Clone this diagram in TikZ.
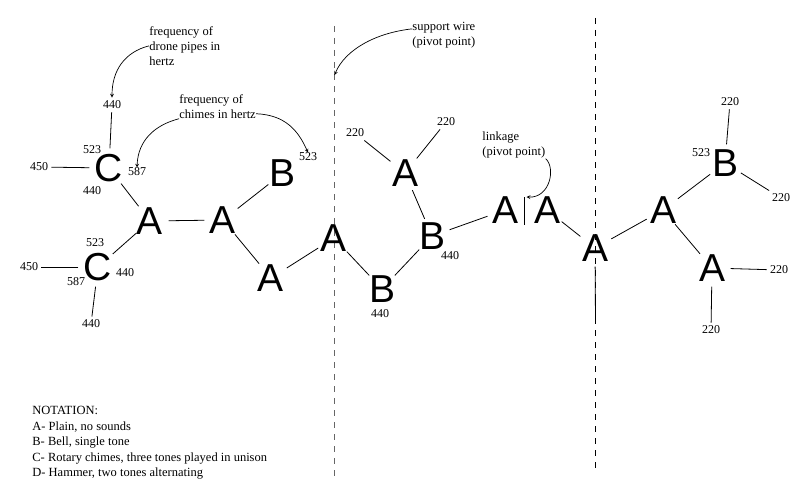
\documentclass[tikz,border=0pt]{standalone}
\usepackage{fontspec}
\setmainfont{Liberation Serif}
\newfontfamily\letterfont{Liberation Sans}
\usepackage{tikz}
\usetikzlibrary{arrows}
\usetikzlibrary{shapes.geometric}

\begin{document}
\begin{tikzpicture}[x=1pt,y=-1pt,line width=0.8pt]
  % some styles
  \tikzset{
    chime/.style={
      circle,
      inner sep=0pt,
      outer sep=0pt,
      font=\letterfont\fontsize{39}{39}\selectfont
    }
  }
  \tikzset{freq/.style={inner sep=3pt,font=\fontsize{12}{14}\selectfont}}
  \tikzset{tone/.style={freq,inner sep=0pt}}
  \tikzset{note/.style={inner sep=0pt,anchor=north west,align=left,font=\fontsize{12.5}{15}\selectfont}}
  \tikzset{wire/.style={line width=0.9pt,dash pattern=on 6pt off 6pt}}
  \tikzset{hint/.style={->,>=stealth,line width=0.7pt}}

\useasboundingbox (0,0) rectangle (810,495);

% support wires
\draw[wire,black!60] (334.5,26) -- (334.5,476);
\draw[wire] (595.5,18) -- (595.5,469);
\coordinate (pivot) at (334.5,75);
\coordinate (wirebot) at (595.5,322);
\coordinate (linktop) at (524.5,197);
\coordinate (linkbot) at (524.5,225);

% mobile parts
\node[chime] (Cu)  at (109,168) {C};
\node[chime] (A1)  at (150,221) {A};
\node[chime] (A2)  at (223,220) {A};
\node[chime] (B1)  at (283,173) {B};
\node[chime] (A3)  at (271,278) {A};
\node[chime] (Cl)  at (98,267)  {C};
\node[chime] (A4)  at (334,238) {A};
\node[chime] (At)  at (405,173) {A};
\node[chime] (Bm)  at (432,236) {B};
\node[chime] (Bl)  at (382,289) {B};
\node[chime] (Ap1) at (505,210) {A};
\node[chime] (Ap2) at (547,210) {A};
\node[chime] (Aw)  at (595,248) {A};
\node[chime] (Ar1) at (663,210) {A};
\node[chime] (Br)  at (725,163) {B};
\node[chime] (Ar2) at (712,268) {A};

% tones
\node[freq] (cu440)  at (112,105) {440};
\node[freq] (cu450)  at (39,167)  {450};
\node[tone] (cu523)  at (92,150)  {523};
\node[tone] (cu587)  at (137,172) {587};
\node[tone] (cu440b) at (92,191)  {440};
\node[tone] (cl523)  at (95,243)  {523};
\node[freq] (cl450)  at (29,267)  {450};
\node[tone] (cl440)  at (125,273) {440};
\node[tone] (cl587)  at (76,282)  {587};
\node[freq] (cl440b) at (91,324)  {440};
\node[tone] (b1523)  at (308,157) {523};
\node[freq] (at220a) at (355,133) {220};
\node[freq] (at220b) at (446,122) {220};
\node[tone] (bm440)  at (450,256) {440};
\node[tone] (bl440)  at (380,314) {440};
\node[freq] (br220a) at (730,102) {220};
\node[tone] (br523)  at (701,153) {523};
\node[freq] (br220b) at (781,198) {220};
\node[freq] (ar220a) at (779,270) {220};
\node[freq] (ar220b) at (711,330) {220};

% rods
\draw (A1) -- (Cu);
\draw (A1) -- (A2);
\draw (A1) -- (Cl);
\draw (A2) -- (B1);
\draw (A2) -- (A3);
\draw (A3) -- (A4);
\draw (A4) -- (Bl);
\draw (Bl) -- (Bm);
\draw (Bm) -- (At);
\draw (Bm) -- (Ap1);
\draw (Ap2) -- (Aw);
\draw (Aw) -- (Ar1);
\draw (Ar1) -- (Br);
\draw (Ar1) -- (Ar2);
\draw (Aw) -- (wirebot);
\draw (linktop) -- (linkbot);
\draw (Cu) -- (cu440);
\draw (Cu) -- (cu450);
\draw (Cl) -- (cl450);
\draw (Cl) -- (cl440b);
\draw (At) -- (at220a);
\draw (At) -- (at220b);
\draw (Br) -- (br220a);
\draw (Br) -- (br220b);
\draw (Ar2) -- (ar220a);
\draw (Ar2) -- (ar220b);

% remarks
\node[note] (dronetxt) at (149,26) {frequency of\\drone pipes in\\hertz};
\node[note] (chimetxt) at (179,94) {frequency of\\chimes in hertz};
\node[note] (suptxt) at (412,21.5) {support wire\\(pivot point)};
\node[note] (linktxt) at (482,131.5) {linkage\\(pivot point)};
\node[note,font=\fontsize{12.5}{15.5}\selectfont] (notation) at (32,406)
  {NOTATION:\\A- Plain, no sounds\\B- Bell, single tone\\C- Rotary chimes, three tones played in unison\\D- Hammer, two tones alternating};

\draw[hint] (dronetxt.west) .. controls (125,52) and (112,70) .. (cu440.north);
\draw[hint] (chimetxt.south west) .. controls (155,125) and (138,140) .. (cu587.north);
\draw[hint] ([yshift=5pt]chimetxt.south east) .. controls (285,115) and (298,130) .. (b1523.north);
\draw[hint] ([yshift=6pt]suptxt.west) .. controls (375,33) and (345,50) .. (pivot);
\draw[hint] (linktxt.south east) .. controls (556,168) and (550,198) .. ([xshift=2pt]linktop);

\end{tikzpicture}
\end{document}
